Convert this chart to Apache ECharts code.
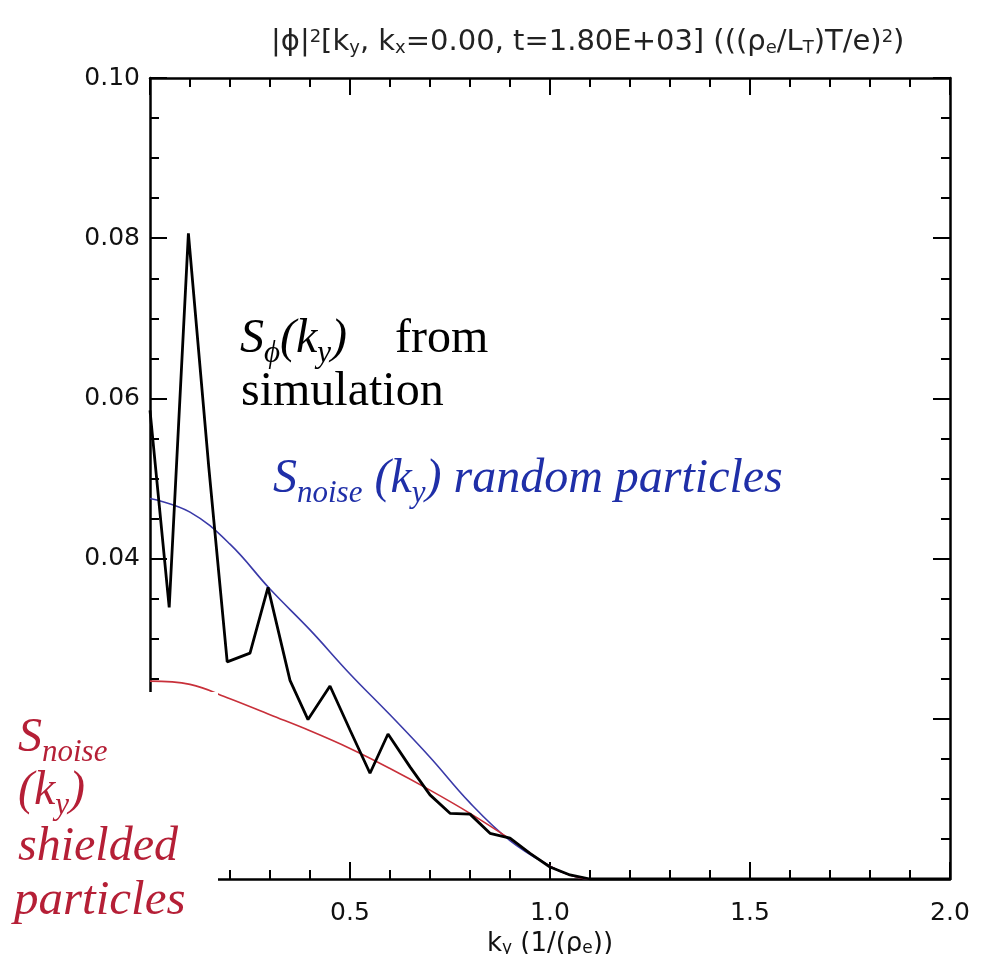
<!DOCTYPE html>
<html><head><meta charset="utf-8">
<script src="https://cdn.jsdelivr.net/npm/echarts@6/dist/echarts.min.js"></script>
<style>html,body{margin:0;padding:0;background:#fff}#c{width:984px;height:954px}</style>
</head><body><div id="c"></div>
<script>
// tick labels
const xTickLabels = ['0.0', '0.5', '1.0', '1.5', '2.0'];
const yTickLabels = ['0.00', '0.02', '0.04', '0.06', '0.08', '0.10'];

// S_phi(ky) from simulation
const kySim = [0, 0.048, 0.096, 0.147, 0.193, 0.25, 0.295, 0.35, 0.395, 0.45, 0.5, 0.55, 0.595,
  0.65, 0.7, 0.75, 0.8, 0.85, 0.9, 0.95, 1.0, 1.05, 1.1, 2.0];
const phiSim = [0.0585, 0.0339, 0.0806, 0.0514, 0.0271, 0.0282, 0.0364, 0.0248, 0.0199, 0.0241, 0.0186, 0.0132, 0.0181,
  0.0140, 0.0105, 0.0082, 0.0081, 0.0057, 0.0051, 0.0032, 0.0015, 0.0005, 0.0, 0.0];

// S_noise(ky) curves
const kyNoise = [0, 0.1, 0.2, 0.3, 0.4, 0.5, 0.6, 0.7, 0.8, 0.9, 1.0, 1.05, 1.1, 2.0];
const noiseRandom = [0.0475, 0.0458, 0.0418, 0.0362, 0.0311, 0.0256, 0.0205, 0.0152, 0.0095, 0.0048, 0.0016, 0.0005, 0.0, 0.0];
const noiseShielded = [0.0247, 0.0243, 0.0225, 0.0205, 0.0185, 0.0163, 0.0138, 0.0111, 0.0082, 0.0050, 0.0016, 0.0005, 0.0, 0.0];

const pairs = (xs, ys) => xs.map((x, i) => [x, ys[i]]);

const axisFont = 'DejaVu Sans';
const serif = 'Liberation Serif';
const tickStyle = {inside: true, length: 17, lineStyle: {color: '#000', width: 2}};
const minorStyle = {show: true, length: 9, lineStyle: {color: '#000', width: 2}};
const lineAx = {show: true, onZero: false, lineStyle: {color: '#000', width: 2.5}};

function richSerif(color, size) {
  return {
    n: {fontFamily: serif, fontSize: size, fill: color, lineHeight: 60},
    i: {fontFamily: serif, fontSize: size, fontStyle: 'italic', fill: color, lineHeight: 60},
    s: {fontFamily: serif, fontSize: 31, fontStyle: 'italic', fill: color, lineHeight: 34, verticalAlign: 'bottom'}
  };
}
const blk = '#000', blu = '#1f2fa8', red = '#b51f36';

const chart = echarts.init(document.getElementById('c'));
chart.setOption({
  backgroundColor: '#fff',
  animation: false,
  title: {
    text: '|ϕ|{p|2}[k{b|y}, k{b|x}=0.00, t=1.80E+03] (((ρ{b|e}/L{b|T})T/e){p|2})',
    left: 266, top: 23,
    textStyle: {
      fontFamily: axisFont, fontSize: 29, fontWeight: 'normal', color: '#222',
      rich: {
        p: {fontFamily: axisFont, fontSize: 18, color: '#222', verticalAlign: 'top', lineHeight: 18},
        b: {fontFamily: axisFont, fontSize: 18, color: '#222', verticalAlign: 'bottom', lineHeight: 18}
      }
    }
  },
  grid: {left: 150, top: 78, width: 800, height: 801, containLabel: false, outerBoundsMode: 'none'},
  xAxis: [{
    type: 'value', min: 0, max: 2, interval: 0.5, position: 'bottom',
    axisLine: lineAx, axisTick: tickStyle, minorTick: Object.assign({splitNumber: 5}, minorStyle),
    splitLine: {show: false}, minorSplitLine: {show: false},
    axisLabel: {margin: 22, fontFamily: axisFont, fontSize: 25, color: '#111',
      formatter: v => xTickLabels[Math.round(v / 0.5)]},
    name: 'k{b|y} (1/(ρ{b|e}))', nameLocation: 'middle', nameGap: 48,
    nameTextStyle: {fontFamily: axisFont, fontSize: 26, color: '#111',
      rich: {b: {fontFamily: axisFont, fontSize: 17, color: '#111', verticalAlign: 'bottom', lineHeight: 14}}}
  }, {
    type: 'value', min: 0, max: 2, interval: 0.5, position: 'top',
    axisLine: lineAx, axisTick: tickStyle, minorTick: Object.assign({splitNumber: 5}, minorStyle),
    splitLine: {show: false}, axisLabel: {show: false}
  }],
  yAxis: [{
    type: 'value', min: 0, max: 0.1, interval: 0.02, position: 'left',
    axisLine: lineAx, axisTick: tickStyle, minorTick: Object.assign({splitNumber: 4}, minorStyle),
    splitLine: {show: false}, minorSplitLine: {show: false},
    axisLabel: {margin: 10, fontFamily: axisFont, fontSize: 25, color: '#111',
      formatter: v => yTickLabels[Math.round(v / 0.02)]}
  }, {
    type: 'value', min: 0, max: 0.1, interval: 0.02, position: 'right',
    axisLine: lineAx, axisTick: tickStyle, minorTick: Object.assign({splitNumber: 4}, minorStyle),
    splitLine: {show: false}, axisLabel: {show: false}
  }],
  series: [{
    name: 'random', type: 'line', data: pairs(kyNoise, noiseRandom), smooth: 0.4,
    showSymbol: false, lineStyle: {color: '#3a3aa8', width: 1.6}, z: 3
  }, {
    name: 'shielded', type: 'line', data: pairs(kyNoise, noiseShielded), smooth: 0.4,
    showSymbol: false, lineStyle: {color: '#c8303a', width: 1.6}, z: 3
  }, {
    name: 'simulation', type: 'line', data: pairs(kySim, phiSim),
    showSymbol: false, lineStyle: {color: '#000', width: 2.8}, z: 4
  }],
  graphic: [
    {type: 'rect', shape: {x: 0, y: 692, width: 218, height: 262}, style: {fill: '#fff'}, z: 50},
    {type: 'text', left: 240, top: 315, z: 60,
      style: {text: '{i|S}{s|ϕ}{i|(k}{s|y}{i|)}{n|    from}', rich: richSerif(blk, 48)}},
    {type: 'text', left: 241, top: 368, z: 60,
      style: {text: '{n|simulation}', rich: richSerif(blk, 48)}},
    {type: 'text', left: 273, top: 455, z: 60,
      style: {text: '{i|S}{s|noise}{i| (k}{s|y}{i|) random particles}', rich: richSerif(blu, 48)}},
    {type: 'text', left: 18, top: 714, z: 60,
      style: {text: '{i|S}{s|noise}', rich: richSerif(red, 48)}},
    {type: 'text', left: 18, top: 767, z: 60,
      style: {text: '{i|(k}{s|y}{i|)}', rich: richSerif(red, 48)}},
    {type: 'text', left: 18, top: 823, z: 60,
      style: {text: '{i|shielded}', rich: richSerif(red, 48)}},
    {type: 'text', left: 14, top: 877, z: 60,
      style: {text: '{i|particles}', rich: richSerif(red, 49)}}
  ]
});
</script></body></html>
